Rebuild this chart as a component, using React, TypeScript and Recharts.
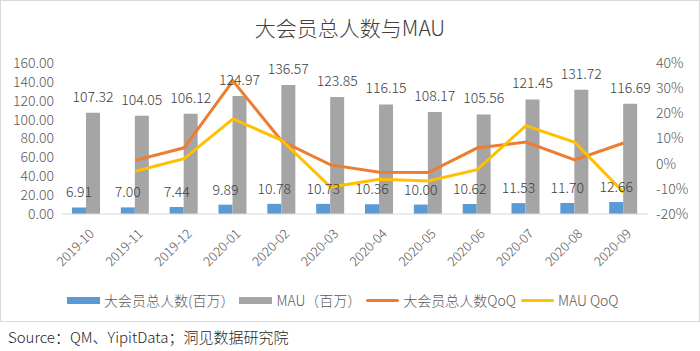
import React from "react";
import {
  ComposedChart,
  Bar,
  Line,
  XAxis,
  YAxis,
  LabelList,
} from "recharts";

const months = [
  "2019-10", "2019-11", "2019-12", "2020-01", "2020-02", "2020-03",
  "2020-04", "2020-05", "2020-06", "2020-07", "2020-08", "2020-09",
];
const members = [6.91, 7.0, 7.44, 9.89, 10.78, 10.73, 10.36, 10.0, 10.62, 11.53, 11.7, 12.66];
const mau = [107.32, 104.05, 106.12, 124.97, 136.57, 123.85, 116.15, 108.17, 105.56, 121.45, 131.72, 116.69];
// QoQ in %
const membersQoQ = [null, 1.3, 6.3, 32.9, 9.0, -0.5, -3.4, -3.5, 6.2, 8.6, 1.5, 8.2];
const mauQoQ = [null, -3.0, 2.0, 17.8, 9.3, -9.3, -6.2, -6.9, -2.4, 15.1, 8.5, -11.4];

const leftTicks = [0, 20, 40, 60, 80, 100, 120, 140, 160];
const rightTicks = [-20, -10, 0, 10, 20, 30, 40];

const BLUE = "#5B9BD5";
const GRAY = "#A5A5A5";
const ORANGE = "#ED7D31";
const YELLOW = "#FFC000";
const FONT = "'Noto Sans CJK SC', 'Noto Sans', sans-serif";

const data = months.map((m, i) => ({
  month: m,
  members: members[i],
  mau: mau[i],
  membersQoQ: membersQoQ[i],
  mauQoQ: mauQoQ[i],
}));

const legendItems = [
  { name: "大会员总人数(百万）", color: BLUE, type: "rect" },
  { name: "MAU（百万）", color: GRAY, type: "rect" },
  { name: "大会员总人数QoQ", color: ORANGE, type: "line" },
  { name: "MAU QoQ", color: YELLOW, type: "line" },
];

function MonthTick(props: any) {
  const { x, y, payload } = props;
  return (
    <g transform={`translate(${x + 6},${y + 10})`}>
      <text
        transform="rotate(-45)"
        textAnchor="end"
        dominantBaseline="middle"
        fontSize={13}
        fontWeight={300}
        fill="#595959"
        fontFamily={FONT}
      >
        {payload.value}
      </text>
    </g>
  );
}

const tickStyle = { fontSize: 14, fill: "#595959", fontFamily: FONT, fontWeight: 300 };
const labelStyle = { fontSize: 14, fill: "#404040", fontFamily: FONT, fontWeight: 300 };

export default function App() {
  return (
    <div
      style={{
        position: "absolute",
        left: 0,
        top: 0,
        width: 700,
        height: 351,
        background: "#fff",
        fontFamily: FONT,
        fontWeight: 300,
      }}
    >
      <div
        style={{
          position: "absolute",
          left: 0,
          top: 0,
          width: 698,
          height: 320,
          border: "1px solid #d9d9d9",
        }}
      />
      <div
        style={{
          position: "absolute",
          top: 12,
          width: 700,
          textAlign: "center",
          fontSize: 21,
          color: "#404040",
        }}
      >
        大会员总人数与MAU
      </div>
      <div style={{ position: "absolute", left: 0, top: 0 }}>
        <ComposedChart
          width={700}
          height={322}
          data={data}
          margin={{ top: 63, right: 6, bottom: 0, left: 4 }}
          barGap={0}
          barSize={14}
        >
          <XAxis
            dataKey="month"
            interval={0}
            tickLine={false}
            axisLine={{ stroke: "#d9d9d9" }}
            tick={<MonthTick />}
            height={108}
          />
          <YAxis
            yAxisId="left"
            domain={[0, 160]}
            ticks={leftTicks}
            interval={0}
            tickFormatter={(v: number) => v.toFixed(2)}
            axisLine={false}
            tickLine={false}
            width={58}
            tick={tickStyle}
          />
          <YAxis
            yAxisId="right"
            orientation="right"
            domain={[-20, 40]}
            ticks={rightTicks}
            interval={0}
            tickFormatter={(v: number) => `${v}%`}
            axisLine={false}
            tickLine={false}
            width={46}
            tick={{ ...tickStyle, textAnchor: "start" }}
          />
          <Bar yAxisId="left" dataKey="members" fill={BLUE} isAnimationActive={false}>
            <LabelList
              dataKey="members"
              position="top"
              offset={10}
              formatter={(v: any) => Number(v).toFixed(2)}
              style={labelStyle}
            />
          </Bar>
          <Bar yAxisId="left" dataKey="mau" fill={GRAY} isAnimationActive={false}>
            <LabelList
              dataKey="mau"
              position="top"
              offset={11}
              formatter={(v: any) => Number(v).toFixed(2)}
              style={labelStyle}
            />
          </Bar>
          <Line
            yAxisId="right"
            dataKey="membersQoQ"
            stroke={ORANGE}
            strokeWidth={3}
            dot={false}
            activeDot={false}
            isAnimationActive={false}
          />
          <Line
            yAxisId="right"
            dataKey="mauQoQ"
            stroke={YELLOW}
            strokeWidth={3}
            dot={false}
            activeDot={false}
            isAnimationActive={false}
          />
        </ComposedChart>
      </div>
      <div
        style={{
          position: "absolute",
          top: 290,
          left: 67,
          display: "flex",
          alignItems: "center",
          fontSize: 14,
          color: "#595959",
          whiteSpace: "nowrap",
        }}
      >
        {legendItems.map((it) => (
          <div key={it.name} style={{ display: "flex", alignItems: "center", marginRight: 5 }}>
            <span
              style={{
                display: "inline-block",
                width: 33,
                height: it.type === "rect" ? 7 : 3,
                background: it.color,
                marginRight: 4,
                borderRadius: it.type === "line" ? 2 : 0,
              }}
            />
            <span>{it.name}</span>
          </div>
        ))}
      </div>
      <div
        style={{
          position: "absolute",
          left: 8,
          top: 326,
          fontSize: 15,
          color: "#262626",
          whiteSpace: "nowrap",
        }}
      >
        Source：QM、YipitData；洞见数据研究院
      </div>
    </div>
  );
}
